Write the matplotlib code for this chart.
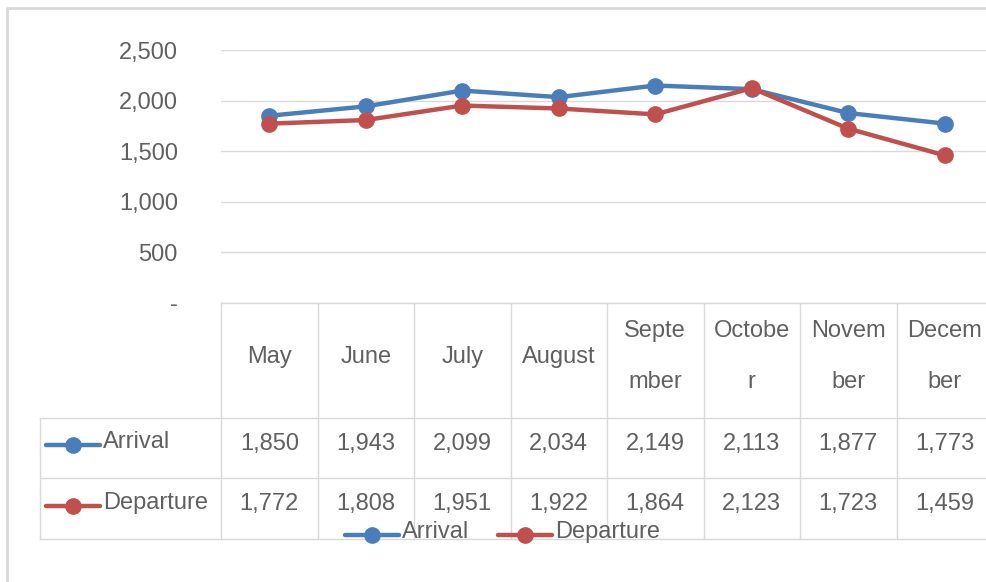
import numpy as np
import matplotlib.pyplot as plt

# chart data
months = ["May", "June", "July", "August", "Septe\nmber", "Octobe\nr", "Novem\nber", "Decem\nber"]
arrival = [1850, 1943, 2099, 2034, 2149, 2113, 1877, 1773]
departure = [1772, 1808, 1951, 1922, 1864, 2123, 1723, 1459]
series_names = ["Arrival", "Departure"]
y_ticks = [0, 500, 1000, 1500, 2000, 2500]

W, H = 986, 582
blue = "#4a7ebb"
red = "#c0504d"
grey_txt = "#606060"
grid_col = "#d9d9d9"
fs = 17
plt.rcParams["font.family"] = ["Liberation Sans", "DejaVu Sans"]

fig = plt.figure(figsize=(W / 100, H / 100), dpi=100)

# pixel layout of the plot area
left, top, bottom = 221, 50, 303
col_w = 96.5
n = len(months)

# overlay axes in pixel coordinates for borders and the data table
ov = fig.add_axes([0, 0, 1, 1])
ov.set_xlim(0, W)
ov.set_ylim(H, 0)
ov.axis("off")

# main line chart
ax = fig.add_axes([left / W, 1 - bottom / H, n * col_w / W, (bottom - top) / H])
ax.set_xlim(-0.5, n - 0.5)
ax.set_ylim(0, 2500)
ax.set_yticks(y_ticks)
ax.set_yticklabels(["-" if v == 0 else f"{v:,}" for v in y_ticks], color=grey_txt, fontsize=fs)
ax.tick_params(axis="y", length=0, pad=31)
ax.set_xticks([])
for s in ax.spines.values():
    s.set_visible(False)
ax.grid(axis="y", color=grid_col, lw=1)
ax.set_axisbelow(True)
ax.patch.set_alpha(0)

x = np.arange(n)
ax.plot(x, arrival, color=blue, lw=3.2, marker="o", ms=11, clip_on=False, zorder=3)
ax.plot(x, departure, color=red, lw=3.2, marker="o", ms=11, clip_on=False, zorder=4)

# outer chart border
ov.plot([7, 7, W], [H, 8, 8], color="#d9d9d9", lw=2)

# data table
t_left = 40
rows = [303, 418, 478, 539]
line_kw = dict(color=grid_col, lw=1)
col_edges = [left + i * col_w for i in range(n + 1)]
ov.plot([left, W], [rows[0], rows[0]], **line_kw)
for yy in rows[1:]:
    ov.plot([t_left, W], [yy, yy], **line_kw)
ov.plot([t_left, t_left], [rows[1], rows[3]], **line_kw)
for i, xe in enumerate(col_edges):
    ov.plot([xe, xe], [rows[0], rows[3]], **line_kw)

for i, m in enumerate(months):
    cx = left + (i + 0.5) * col_w
    parts = m.split("\n")
    if len(parts) == 1:
        ov.text(cx, 357, parts[0], ha="center", va="center", fontsize=fs, color=grey_txt)
    else:
        ov.text(cx, 331, parts[0], ha="center", va="center", fontsize=fs, color=grey_txt)
        ov.text(cx, 382, parts[1], ha="center", va="center", fontsize=fs, color=grey_txt)
    ov.text(cx, 444, f"{arrival[i]:,}", ha="center", va="center", fontsize=fs, color=grey_txt)
    ov.text(cx, 504, f"{departure[i]:,}", ha="center", va="center", fontsize=fs, color=grey_txt)


def legend_key(x0, y0, color, label):
    ov.plot([x0, x0 + 54], [y0, y0], color=color, lw=3.2, solid_capstyle="round")
    ov.plot([x0 + 27], [y0], "o", color=color, ms=11)
    ov.text(x0 + 57, y0 - 3, label, ha="left", va="center", fontsize=fs, color=grey_txt)


legend_key(46, 445, blue, series_names[0])
legend_key(46, 506, red, series_names[1])

# bottom legend
legend_key(345, 535, blue, series_names[0])
legend_key(498, 535, red, series_names[1])

fig.savefig("out.png", dpi=100)
